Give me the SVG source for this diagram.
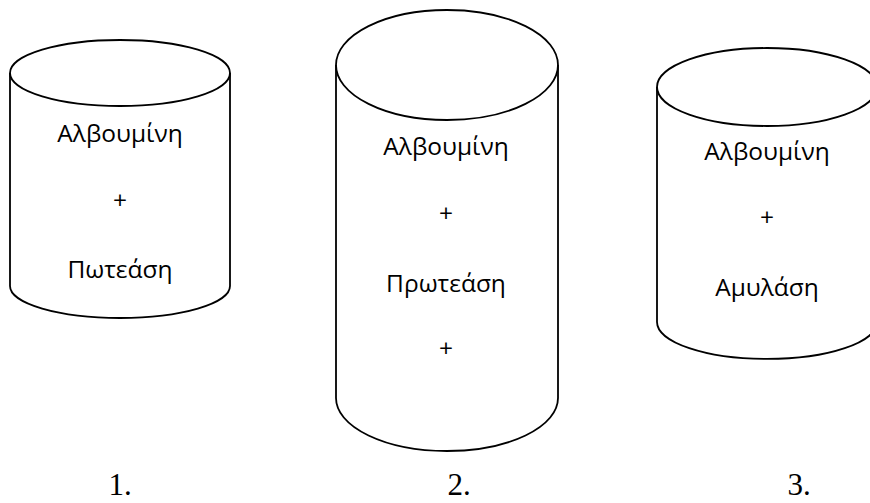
<svg xmlns="http://www.w3.org/2000/svg" width="870" height="503" viewBox="0 0 870 503">
<style>
.cyl{fill:none;stroke:#000;stroke-width:1.8}
.t{font-family:"Open Sans","Noto Sans",sans-serif;font-size:24.5px;fill:#000;text-anchor:middle}
.n{font-family:"Liberation Serif","DejaVu Serif",serif;font-size:31px;fill:#000;text-anchor:middle}
</style>
<rect width="870" height="503" fill="#fff"/>
<g id="cyl1">
<ellipse class="cyl" cx="120" cy="73" rx="110" ry="33"/>
<path class="cyl" d="M10,73 L10,286 A110,32 0 0 0 230,286 L230,73"/>
<text class="t" x="120" y="142">Αλβουμίνη</text>
<text class="t" x="120" y="209">+</text>
<text class="t" x="120" y="278">Πωτεάση</text>
<text class="n" x="120" y="495">1.</text>
</g>
<g id="cyl2">
<ellipse class="cyl" cx="447" cy="65" rx="111" ry="55"/>
<path class="cyl" d="M336,65 L336,398 A111,53 0 0 0 558,398 L558,65"/>
<text class="t" x="446" y="155">Αλβουμίνη</text>
<text class="t" x="446" y="222">+</text>
<text class="t" x="446" y="292">Πρωτεάση</text>
<text class="t" x="446" y="357">+</text>
<text class="n" x="459" y="495">2.</text>
</g>
<g id="cyl3">
<ellipse class="cyl" cx="767" cy="87" rx="110" ry="39"/>
<path class="cyl" d="M657,87 L657,322 A110,37 0 0 0 877,322 L877,87"/>
<text class="t" x="767" y="160">Αλβουμίνη</text>
<text class="t" x="767" y="226">+</text>
<text class="t" x="767" y="296">Αμυλάση</text>
<text class="n" x="799" y="495">3.</text>
</g>
</svg>
